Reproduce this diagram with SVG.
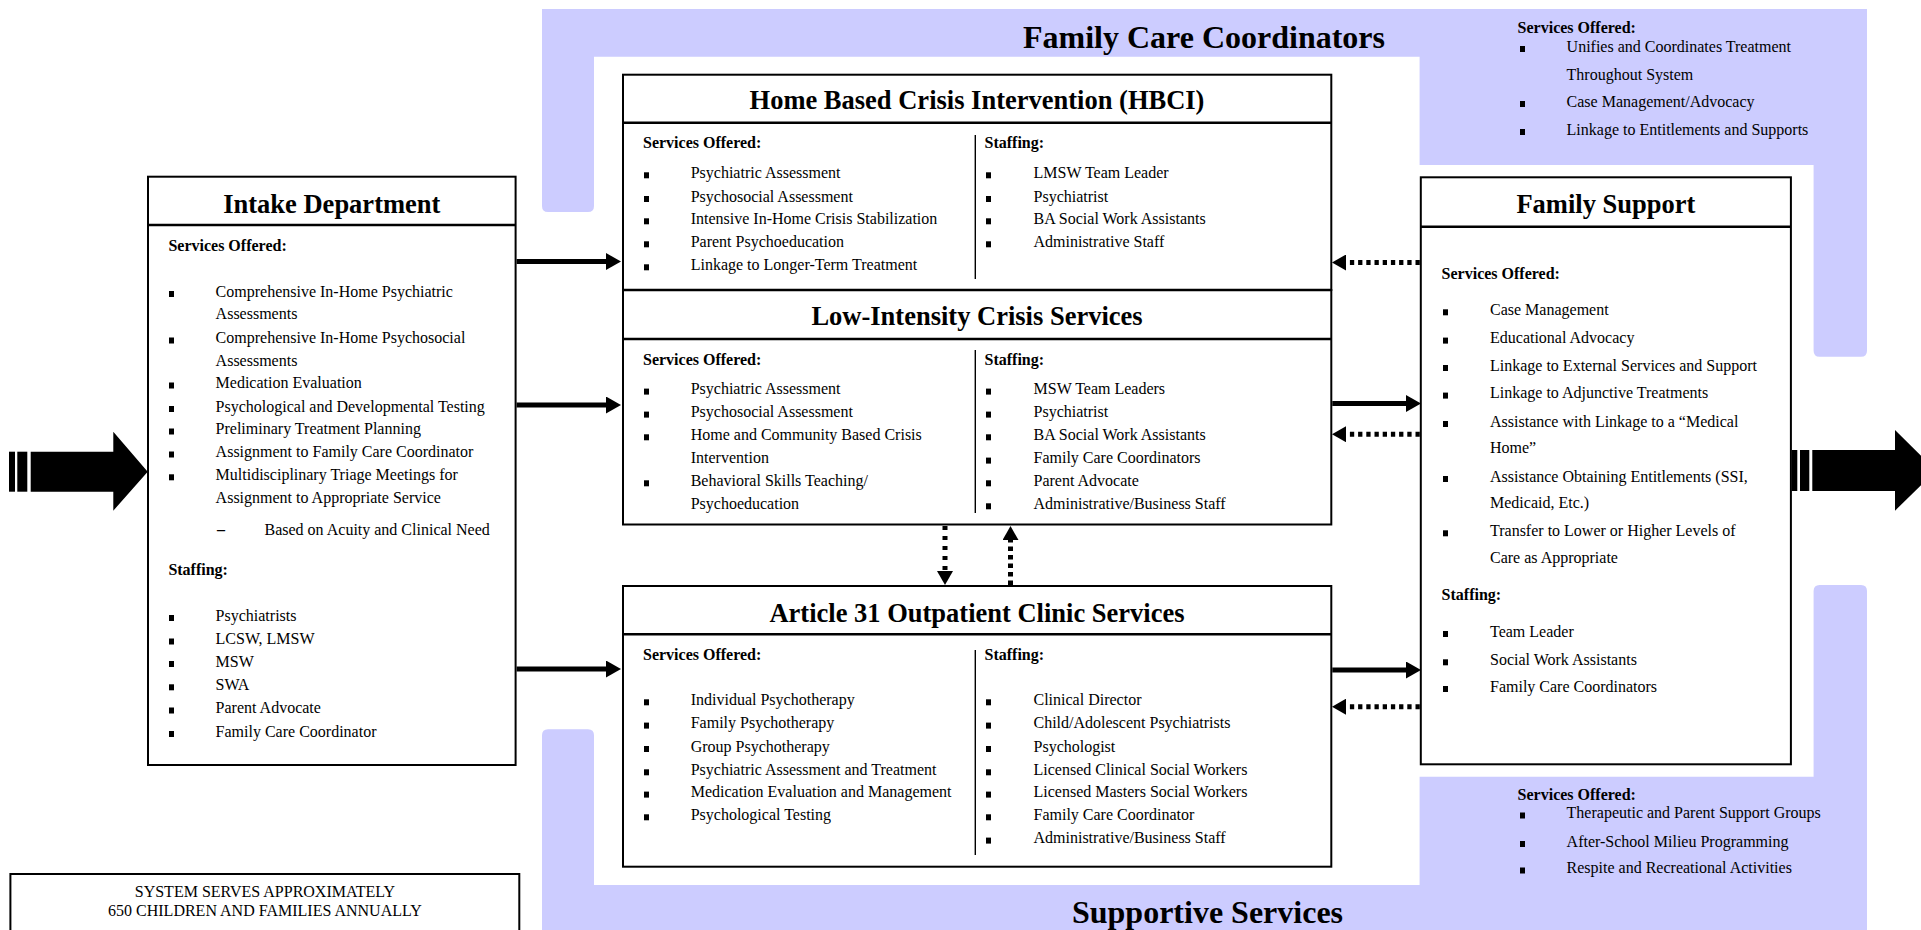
<svg xmlns="http://www.w3.org/2000/svg" width="1921" height="930" viewBox="0 0 1921 930">
<style>
text{font-family:"Liberation Serif","Times New Roman",serif;fill:#000}
.t{font-size:26.5px;font-weight:bold;text-anchor:middle}
.big{font-size:32px;font-weight:bold;text-anchor:middle}
.h{font-size:16px;font-weight:bold}
.i{font-size:16px}
.c{font-size:16px;text-anchor:middle}
.box{fill:#fff;stroke:#000;stroke-width:2}
.div{stroke:#000;stroke-width:2.5}
.col{stroke:#000;stroke-width:1.4}
.band{fill:#CCCCFF}
.sol{stroke:#000;stroke-width:5;fill:none}
.dot{stroke:#000;stroke-width:5;fill:none;stroke-dasharray:4.3 3.9}
</style>
<defs>
<rect id="b" width="5" height="6" y="-6"/>
<marker id="ah" markerUnits="userSpaceOnUse" markerWidth="15" markerHeight="17" refX="0" refY="8.5" orient="auto"><path d="M0,0 L15,8.5 L0,17 Z" fill="#000"/></marker>
<marker id="ad" markerUnits="userSpaceOnUse" markerWidth="14" markerHeight="16" refX="0" refY="8" orient="auto"><path d="M0,0 L14,8 L0,16 Z" fill="#000"/></marker>
</defs>
<rect width="1921" height="930" fill="#fff"/>

<g id="family-care-coordinators">
<path class="band" d="M542,9 H1867 V350.7 Q1867,356.7 1861,356.7 H1819.6 Q1813.6,356.7 1813.6,350.7 V165 H1419.6 V56.7 H594 V206 Q594,212 588,212 H548 Q542,212 542,206 Z"/>
<text class="big" x="1204" y="48.3">Family Care Coordinators</text>
<text class="h" x="1517.6" y="33.3">Services Offered:</text>
<use href="#b" x="1520" y="52"/><text class="i" x="1566.6" y="51.7">Unifies and Coordinates Treatment</text>
<text class="i" x="1566.6" y="80">Throughout System</text>
<use href="#b" x="1520" y="107"/><text class="i" x="1566.6" y="106.7">Case Management/Advocacy</text>
<use href="#b" x="1520" y="135"/><text class="i" x="1566.6" y="135">Linkage to Entitlements and Supports</text>
</g>

<g id="supportive-services">
<path class="band" d="M542,735.3 Q542,729.3 548,729.3 H588 Q594,729.3 594,735.3 V885 H1419.6 V776.7 H1813.6 V591 Q1813.6,585 1819.6,585 H1861 Q1867,585 1867,591 V930 H542 Z"/>
<text class="big" x="1207.5" y="923.3">Supportive Services</text>
<text class="h" x="1517.6" y="800">Services Offered:</text>
<use href="#b" x="1520" y="818.5"/><text class="i" x="1566.6" y="818.3">Therapeutic and Parent Support Groups</text>
<use href="#b" x="1520" y="847"/><text class="i" x="1566.6" y="846.7">After-School Milieu Programming</text>
<use href="#b" x="1520" y="873.5"/><text class="i" x="1566.6" y="873.3">Respite and Recreational Activities</text>
</g>

<g id="intake">
<rect class="box" x="148" y="176.7" width="367.6" height="588.3"/>
<line class="div" x1="148" y1="225" x2="515.6" y2="225"/>
<text class="t" x="331.8" y="212.7">Intake Department</text>
<text class="h" x="168.4" y="250.7">Services Offered:</text>
<use href="#b" x="169" y="297"/><text class="i" x="215.6" y="296.7">Comprehensive In-Home Psychiatric</text>
<text class="i" x="215.6" y="319.3">Assessments</text>
<use href="#b" x="169" y="343.5"/><text class="i" x="215.6" y="343.3">Comprehensive In-Home Psychosocial</text>
<text class="i" x="215.6" y="365.7">Assessments</text>
<use href="#b" x="169" y="388.5"/><text class="i" x="215.6" y="388.3">Medication Evaluation</text>
<use href="#b" x="169" y="412"/><text class="i" x="215.6" y="411.7">Psychological and Developmental Testing</text>
<use href="#b" x="169" y="434.5"/><text class="i" x="215.6" y="434.3">Preliminary Treatment Planning</text>
<use href="#b" x="169" y="457.5"/><text class="i" x="215.6" y="457.3">Assignment to Family Care Coordinator</text>
<use href="#b" x="169" y="480.3"/><text class="i" x="215.6" y="480">Multidisciplinary Triage Meetings for</text>
<text class="i" x="215.6" y="503.3">Assignment to Appropriate Service</text>
<text class="h" x="217" y="535">–</text><text class="i" x="264.5" y="535">Based on Acuity and Clinical Need</text>
<text class="h" x="168.4" y="575">Staffing:</text>
<use href="#b" x="169" y="621"/><text class="i" x="215.6" y="620.7">Psychiatrists</text>
<use href="#b" x="169" y="644.5"/><text class="i" x="215.6" y="644.3">LCSW, LMSW</text>
<use href="#b" x="169" y="667"/><text class="i" x="215.6" y="666.7">MSW</text>
<use href="#b" x="169" y="690.3"/><text class="i" x="215.6" y="690">SWA</text>
<use href="#b" x="169" y="713.5"/><text class="i" x="215.6" y="713.3">Parent Advocate</text>
<use href="#b" x="169" y="737"/><text class="i" x="215.6" y="736.7">Family Care Coordinator</text>
</g>

<g id="hbci">
<rect class="box" x="623" y="74.7" width="708.3" height="215.3"/>
<line class="div" x1="623" y1="122.7" x2="1331.3" y2="122.7"/>
<text class="t" x="977" y="109">Home Based Crisis Intervention (HBCI)</text>
<line class="col" x1="975.3" y1="135" x2="975.3" y2="279"/>
<text class="h" x="643" y="148">Services Offered:</text>
<use href="#b" x="644" y="178.3"/><text class="i" x="690.7" y="178">Psychiatric Assessment</text>
<use href="#b" x="644" y="202"/><text class="i" x="690.7" y="201.7">Psychosocial Assessment</text>
<use href="#b" x="644" y="224.3"/><text class="i" x="690.7" y="224">Intensive In-Home Crisis Stabilization</text>
<use href="#b" x="644" y="247.3"/><text class="i" x="690.7" y="247">Parent Psychoeducation</text>
<use href="#b" x="644" y="270.3"/><text class="i" x="690.7" y="270">Linkage to Longer-Term Treatment</text>
<text class="h" x="984.5" y="148">Staffing:</text>
<use href="#b" x="986" y="178.3"/><text class="i" x="1033.5" y="178">LMSW Team Leader</text>
<use href="#b" x="986" y="202"/><text class="i" x="1033.5" y="201.7">Psychiatrist</text>
<use href="#b" x="986" y="224.3"/><text class="i" x="1033.5" y="224">BA Social Work Assistants</text>
<use href="#b" x="986" y="247.3"/><text class="i" x="1033.5" y="247">Administrative Staff</text>
</g>

<g id="low-intensity">
<rect class="box" x="623" y="290" width="708.3" height="234.5"/>
<line class="div" x1="623" y1="290" x2="1331.3" y2="290"/>
<line class="div" x1="623" y1="339" x2="1331.3" y2="339"/>
<text class="t" x="977" y="325">Low-Intensity Crisis Services</text>
<line class="col" x1="975.3" y1="350" x2="975.3" y2="513"/>
<text class="h" x="643" y="365">Services Offered:</text>
<use href="#b" x="644" y="394.6"/><text class="i" x="690.7" y="394.3">Psychiatric Assessment</text>
<use href="#b" x="644" y="417.6"/><text class="i" x="690.7" y="417.3">Psychosocial Assessment</text>
<use href="#b" x="644" y="440.3"/><text class="i" x="690.7" y="440">Home and Community Based Crisis</text>
<text class="i" x="690.7" y="463.3">Intervention</text>
<use href="#b" x="644" y="486.3"/><text class="i" x="690.7" y="486">Behavioral Skills Teaching/</text>
<text class="i" x="690.7" y="509">Psychoeducation</text>
<text class="h" x="984.5" y="365">Staffing:</text>
<use href="#b" x="986" y="394.6"/><text class="i" x="1033.5" y="394.3">MSW Team Leaders</text>
<use href="#b" x="986" y="417.6"/><text class="i" x="1033.5" y="417.3">Psychiatrist</text>
<use href="#b" x="986" y="440.3"/><text class="i" x="1033.5" y="440">BA Social Work Assistants</text>
<use href="#b" x="986" y="463.6"/><text class="i" x="1033.5" y="463.3">Family Care Coordinators</text>
<use href="#b" x="986" y="486.3"/><text class="i" x="1033.5" y="486">Parent Advocate</text>
<use href="#b" x="986" y="509.3"/><text class="i" x="1033.5" y="509">Administrative/Business Staff</text>
</g>

<g id="article31">
<rect class="box" x="623" y="586" width="708.3" height="280.7"/>
<line class="div" x1="623" y1="634.3" x2="1331.3" y2="634.3"/>
<text class="t" x="977" y="621.7">Article 31 Outpatient Clinic Services</text>
<line class="col" x1="975.3" y1="650" x2="975.3" y2="855"/>
<text class="h" x="643" y="660">Services Offered:</text>
<use href="#b" x="644" y="705.3"/><text class="i" x="690.7" y="705">Individual Psychotherapy</text>
<use href="#b" x="644" y="728.6"/><text class="i" x="690.7" y="728.3">Family Psychotherapy</text>
<use href="#b" x="644" y="752"/><text class="i" x="690.7" y="751.7">Group Psychotherapy</text>
<use href="#b" x="644" y="775.3"/><text class="i" x="690.7" y="775">Psychiatric Assessment and Treatment</text>
<use href="#b" x="644" y="797.6"/><text class="i" x="690.7" y="797.3">Medication Evaluation and Management</text>
<use href="#b" x="644" y="820.3"/><text class="i" x="690.7" y="820">Psychological Testing</text>
<text class="h" x="984.5" y="660">Staffing:</text>
<use href="#b" x="986" y="705.3"/><text class="i" x="1033.5" y="705">Clinical Director</text>
<use href="#b" x="986" y="728.6"/><text class="i" x="1033.5" y="728.3">Child/Adolescent Psychiatrists</text>
<use href="#b" x="986" y="752"/><text class="i" x="1033.5" y="751.7">Psychologist</text>
<use href="#b" x="986" y="775.3"/><text class="i" x="1033.5" y="775">Licensed Clinical Social Workers</text>
<use href="#b" x="986" y="797.6"/><text class="i" x="1033.5" y="797.3">Licensed Masters Social Workers</text>
<use href="#b" x="986" y="820.3"/><text class="i" x="1033.5" y="820">Family Care Coordinator</text>
<use href="#b" x="986" y="843.6"/><text class="i" x="1033.5" y="843.3">Administrative/Business Staff</text>
</g>

<g id="family-support">
<rect class="box" x="1420.8" y="177.3" width="370.1" height="587"/>
<line class="div" x1="1420.8" y1="226.7" x2="1790.9" y2="226.7"/>
<text class="t" x="1605.9" y="213">Family Support</text>
<text class="h" x="1441.6" y="279.3">Services Offered:</text>
<use href="#b" x="1443" y="315.3"/><text class="i" x="1490" y="315">Case Management</text>
<use href="#b" x="1443" y="343.6"/><text class="i" x="1490" y="343.3">Educational Advocacy</text>
<use href="#b" x="1443" y="371"/><text class="i" x="1490" y="370.7">Linkage to External Services and Support</text>
<use href="#b" x="1443" y="398.6"/><text class="i" x="1490" y="398.3">Linkage to Adjunctive Treatments</text>
<use href="#b" x="1443" y="427"/><text class="i" x="1490" y="426.7">Assistance with Linkage to a “Medical</text>
<text class="i" x="1490" y="453.3">Home”</text>
<use href="#b" x="1443" y="482"/><text class="i" x="1490" y="481.7">Assistance Obtaining Entitlements (SSI,</text>
<text class="i" x="1490" y="508.3">Medicaid, Etc.)</text>
<use href="#b" x="1443" y="536.3"/><text class="i" x="1490" y="536">Transfer to Lower or Higher Levels of</text>
<text class="i" x="1490" y="563.3">Care as Appropriate</text>
<text class="h" x="1441.6" y="600">Staffing:</text>
<use href="#b" x="1443" y="637"/><text class="i" x="1490" y="636.7">Team Leader</text>
<use href="#b" x="1443" y="665.3"/><text class="i" x="1490" y="665">Social Work Assistants</text>
<use href="#b" x="1443" y="692"/><text class="i" x="1490" y="691.7">Family Care Coordinators</text>
</g>

<g id="system-note">
<rect class="box" x="10.4" y="874" width="508.9" height="80"/>
<text class="c" x="264.9" y="896.7">SYSTEM SERVES APPROXIMATELY</text>
<text class="c" x="264.9" y="916">650 CHILDREN AND FAMILIES ANNUALLY</text>
</g>

<g id="connectors">
<g id="in-arrow">
<rect x="9" y="451.7" width="6" height="40"/>
<rect x="17.3" y="451.7" width="10" height="40"/>
<path d="M30.7,451.7 H113.3 V431.7 L147.7,471.7 L113.3,510.7 V491.7 H30.7 Z"/>
</g>
<g id="out-arrow">
<rect x="1791.7" y="450" width="5.6" height="41"/>
<rect x="1800" y="450" width="9.3" height="41"/>
<path d="M1812.3,450 H1895 V430 L1936,470.5 L1895,510.7 V491 H1812.3 Z"/>
</g>
<line class="sol" x1="516.6" y1="261.5" x2="606" y2="261.5" marker-end="url(#ah)"/>
<line class="sol" x1="516.6" y1="405" x2="606" y2="405" marker-end="url(#ah)"/>
<line class="sol" x1="516.6" y1="669" x2="606" y2="669" marker-end="url(#ah)"/>
<line class="sol" x1="1332.3" y1="403.5" x2="1406" y2="403.5" marker-end="url(#ah)"/>
<line class="sol" x1="1332.3" y1="670" x2="1406" y2="670" marker-end="url(#ah)"/>
<line class="dot" x1="1419.8" y1="262.5" x2="1346" y2="262.5" marker-end="url(#ad)"/>
<line class="dot" x1="1419.8" y1="434.2" x2="1346" y2="434.2" marker-end="url(#ad)"/>
<line class="dot" x1="1419.8" y1="706.7" x2="1346" y2="706.7" marker-end="url(#ad)"/>
<line class="dot" x1="945" y1="526" x2="945" y2="571" marker-end="url(#ad)" style="stroke-dasharray:4 6"/>
<line class="dot" x1="1010.5" y1="585" x2="1010.5" y2="540" marker-end="url(#ad)" style="stroke-dasharray:4.5 4"/>
</g>
</svg>
